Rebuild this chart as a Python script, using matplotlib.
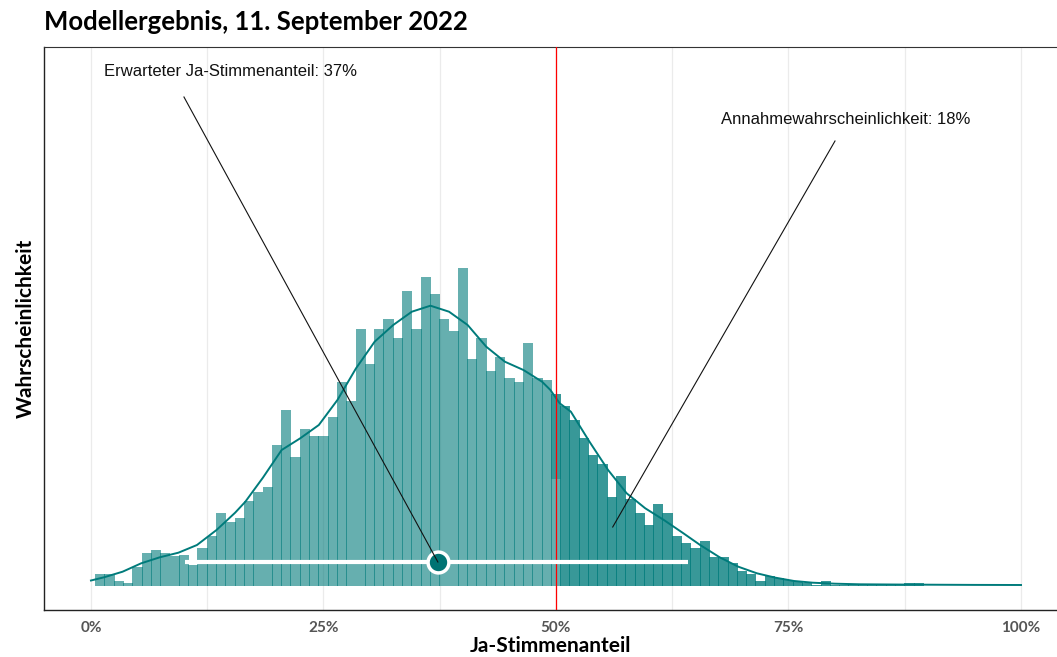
import numpy as np
import matplotlib
matplotlib.use("Agg")
import matplotlib.pyplot as plt

# histogram bins (1 %-wide, starting a bit above 0)
bin_start = 0.45
light_counts = [11.5, 11.5, 4.5, 2.2, 18.8, 32.5, 35.5, 32.5, 29.2, 30.5,
                21.0, 37.5, 49.8, 72.8, 63.8, 67.8, 84.8, 93.5, 98.5, 140.5,
                175.5, 128.5, 156.5, 149.5, 149.5, 168.5, 203.5, 184.5, 256.5, 221.5,
                256.5, 266.5, 247.5, 294.5, 256.5, 308.5, 291.5, 266.5, 254.5, 317.5,
                226.5, 247.5, 214.5, 228.5, 207.5, 203.5, 242.5, 207.5, 205.5, 107.0]
dark_counts = [84.5, 179.5, 165.5, 147.5, 130.5, 121.5, 88.5, 109.5, 86.5, 72.5,
               60.5, 81.5, 72.5, 49.5, 42.5, 37.5, 44.5, 28.5, 28.5, 22.2,
               14.5, 11.5, 4.5, 9.2, 7.2, 5.5, 3.8, 2.5, 0.6, 4.5,
               0.8, 0.6, 0.4, 0.3, 0.4, 0.3, 0.5, 0.4, 2.5, 2.5]
dark_first_bin = 49

# density curve
kde_x = [0, 1.4, 3.4, 5.4, 7.4, 9.4, 11.4, 13.5, 15.5, 16.6, 18.5, 20.5, 22.5, 24.5,
         26.5, 28.5, 30.5, 32.5, 34.5, 36.5, 38.5, 40.5, 42.5, 44.5, 46.5, 48.5,
         49.4, 50.4, 51.6, 53.6, 55.6, 57.6, 59.6, 61.6, 63.7, 65.5, 67.6, 69.6,
         71.6, 73.6, 75.6, 77.6, 80.0, 82.7, 86.0, 90.0, 95.0, 100.0]
kde_y = [5.0, 8.2, 13.8, 22.2, 28.2, 32.8, 40.5, 55.5, 72.8, 83.8, 108.0, 135.5, 147.2, 160.5,
         185.5, 217.2, 243.8, 260.5, 273.8, 279.8, 273.8, 260.5, 238.8, 223.8, 215.5, 203.8,
         195.5, 182.2, 173.8, 143.8, 115.5, 92.2, 77.2, 65.5, 52.2, 40.5, 28.2, 18.8,
         12.2, 7.8, 4.5, 2.8, 1.8, 1.2, 1.0, 0.8, 0.6, 0.5]

# uncertainty interval and expected value
interval = (10.1, 64.2)
expected = 37.3
threshold = 50

teal = "#007B7B"

fig = plt.figure(figsize=(10.57, 6.57), dpi=100)
ax = fig.add_axes([44 / 1057, 47 / 657, 1013 / 1057, 563 / 657])

for g in np.arange(0, 100.1, 12.5):
    ax.axvline(g, color="#EBEBEB", lw=0.9, zorder=0)

left_edges = bin_start + np.arange(len(light_counts))
ax.bar(left_edges, light_counts, width=1.1, align="edge", color=teal,
       alpha=0.6, linewidth=0, zorder=2)
dark_edges = bin_start + dark_first_bin + np.arange(len(dark_counts))
dark_bottom = [light_counts[dark_first_bin]] + [0] * (len(dark_counts) - 1)
ax.bar(dark_edges, dark_counts, bottom=dark_bottom, width=1.1, align="edge",
       color=teal, alpha=0.78, linewidth=0, zorder=2)

ax.plot(kde_x, kde_y, color=teal, lw=1.4, zorder=3)

ax.axvline(threshold, color="red", lw=0.9, zorder=4)

ax.plot(interval, [23.5, 23.5], color="white", lw=3, solid_capstyle="butt", zorder=5)
ax.plot([expected], [23.5], "o", ms=15, mfc="#007373", mec="white", mew=2.5, zorder=6)

ann_font = dict(family=["Liberation Sans", "DejaVu Sans"], fontsize=12, color="#111111")
ax.plot([10.0, expected], [488.5, 23.5], color="#111111", lw=0.8, zorder=7)
ax.text(15.0, 513.5, "Erwarteter Ja-Stimmenanteil: 37%", ha="center", va="center", **ann_font)
ax.plot([80.0, 56.1], [444.5, 58.5], color="#111111", lw=0.8, zorder=7)
ax.text(81.1, 466.5, "Annahmewahrscheinlichkeit: 18%", ha="center", va="center", **ann_font)

ax.set_xlim(-5.05, 103.87)
ax.set_ylim(-24.5, 538.5)
ax.set_yticks([])
ax.set_xticks([0, 25, 50, 75, 100])
ax.set_xticklabels(["0%", "25%", "50%", "75%", "100%"], family="Lato",
                   fontweight="bold", fontsize=11, color="#555555")
ax.tick_params(axis="x", length=0, pad=8)

ax.spines["right"].set_visible(False)
ax.spines["top"].set_color("#333333")
ax.spines["top"].set_linewidth(0.8)
for s in ["left", "bottom"]:
    ax.spines[s].set_color("#222222")
    ax.spines[s].set_linewidth(1.0)

ax.set_xlabel("Ja-Stimmenanteil", family="Lato", fontweight="bold", fontsize=15, labelpad=1)
ax.set_ylabel("Wahrscheinlichkeit", family="Lato", fontweight="bold", fontsize=15, labelpad=6)

fig.text(44 / 1057, 1 - 22 / 657, "Modellergebnis, 11. September 2022", family="Lato",
         fontweight="bold", fontsize=18.5, ha="left", va="center")

fig.savefig("out.png", dpi=100)
